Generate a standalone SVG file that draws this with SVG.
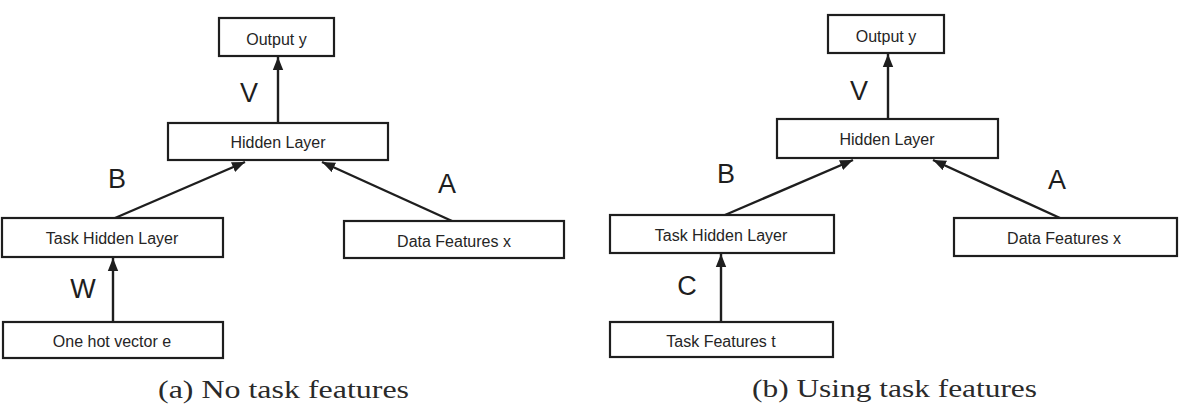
<svg xmlns="http://www.w3.org/2000/svg" width="1183" height="408" viewBox="0 0 1183 408">
<style>
.box{fill:#fff;stroke:#1e1e1e;stroke-width:2.2}
.lbl{font-family:"Liberation Sans",Arial,sans-serif;font-size:16px;fill:#252525;text-anchor:middle}
.wt{font-family:"Liberation Sans",Arial,sans-serif;font-size:27px;fill:#1e1e1e;text-anchor:middle}
.cap{font-family:"Liberation Serif","Times New Roman",serif;font-size:25px;fill:#2a2a2a}
.edge{stroke:#1e1e1e;stroke-width:2.4;fill:none;marker-end:url(#ah)}
</style>
<defs>
<marker id="ah" markerUnits="userSpaceOnUse" markerWidth="14" markerHeight="12" viewBox="0 0 14 12" refX="13" refY="6" orient="auto">
<path d="M0,0.8 L13,6 L0,11.2 Z" fill="#1e1e1e"/>
</marker>
</defs>
<rect width="1183" height="408" fill="#fff"/>
<g id="connectors">
<line class="edge" x1="278" y1="123" x2="278" y2="57"/>
<line class="edge" x1="115" y1="218" x2="245" y2="162"/>
<line class="edge" x1="452" y1="221" x2="322" y2="162"/>
<line class="edge" x1="113" y1="322" x2="113" y2="258"/>
<line class="edge" x1="888" y1="119" x2="888" y2="54"/>
<line class="edge" x1="725" y1="215" x2="853" y2="160"/>
<line class="edge" x1="1060" y1="218" x2="933" y2="160"/>
<line class="edge" x1="721" y1="322" x2="721" y2="254"/>
</g>
<g id="a-output"><rect class="box" x="219" y="18" width="115" height="38"/><text class="lbl" x="276.5" y="45">Output y</text></g>
<g id="a-hidden"><rect class="box" x="168" y="123" width="220" height="37"/><text class="lbl" x="278" y="148">Hidden Layer</text></g>
<g id="a-taskhidden"><rect class="box" x="2" y="218" width="221" height="39"/><text class="lbl" x="112" y="244">Task Hidden Layer</text></g>
<g id="a-onehot"><rect class="box" x="3" y="322" width="220" height="36"/><text class="lbl" x="112" y="347">One hot vector e</text></g>
<g id="a-data"><rect class="box" x="344" y="221" width="220" height="37"/><text class="lbl" x="454" y="247">Data Features x</text></g>
<g id="a-weights">
<text class="wt" x="249" y="102">V</text>
<text class="wt" x="117" y="188">B</text>
<text class="wt" x="447" y="193">A</text>
<text class="wt" x="83" y="298">W</text>
</g>
<g id="b-output"><rect class="box" x="828" y="15" width="116" height="38"/><text class="lbl" x="886" y="42">Output y</text></g>
<g id="b-hidden"><rect class="box" x="777" y="119" width="221" height="39"/><text class="lbl" x="887" y="145">Hidden Layer</text></g>
<g id="b-taskhidden"><rect class="box" x="610" y="215" width="224" height="38"/><text class="lbl" x="721" y="241">Task Hidden Layer</text></g>
<g id="b-taskfeat"><rect class="box" x="610" y="322" width="223" height="35"/><text class="lbl" x="721" y="347">Task Features t</text></g>
<g id="b-data"><rect class="box" x="954" y="218" width="223" height="38"/><text class="lbl" x="1064" y="244">Data Features x</text></g>
<g id="b-weights">
<text class="wt" x="859" y="100">V</text>
<text class="wt" x="726" y="183">B</text>
<text class="wt" x="1057" y="189">A</text>
<text class="wt" x="687" y="295">C</text>
</g>
<g id="captions">
<text class="cap" x="158" y="398" textLength="251" lengthAdjust="spacingAndGlyphs">(a)  No task features</text>
<text class="cap" x="752" y="397" textLength="285" lengthAdjust="spacingAndGlyphs">(b)  Using task features</text>
</g>
</svg>
